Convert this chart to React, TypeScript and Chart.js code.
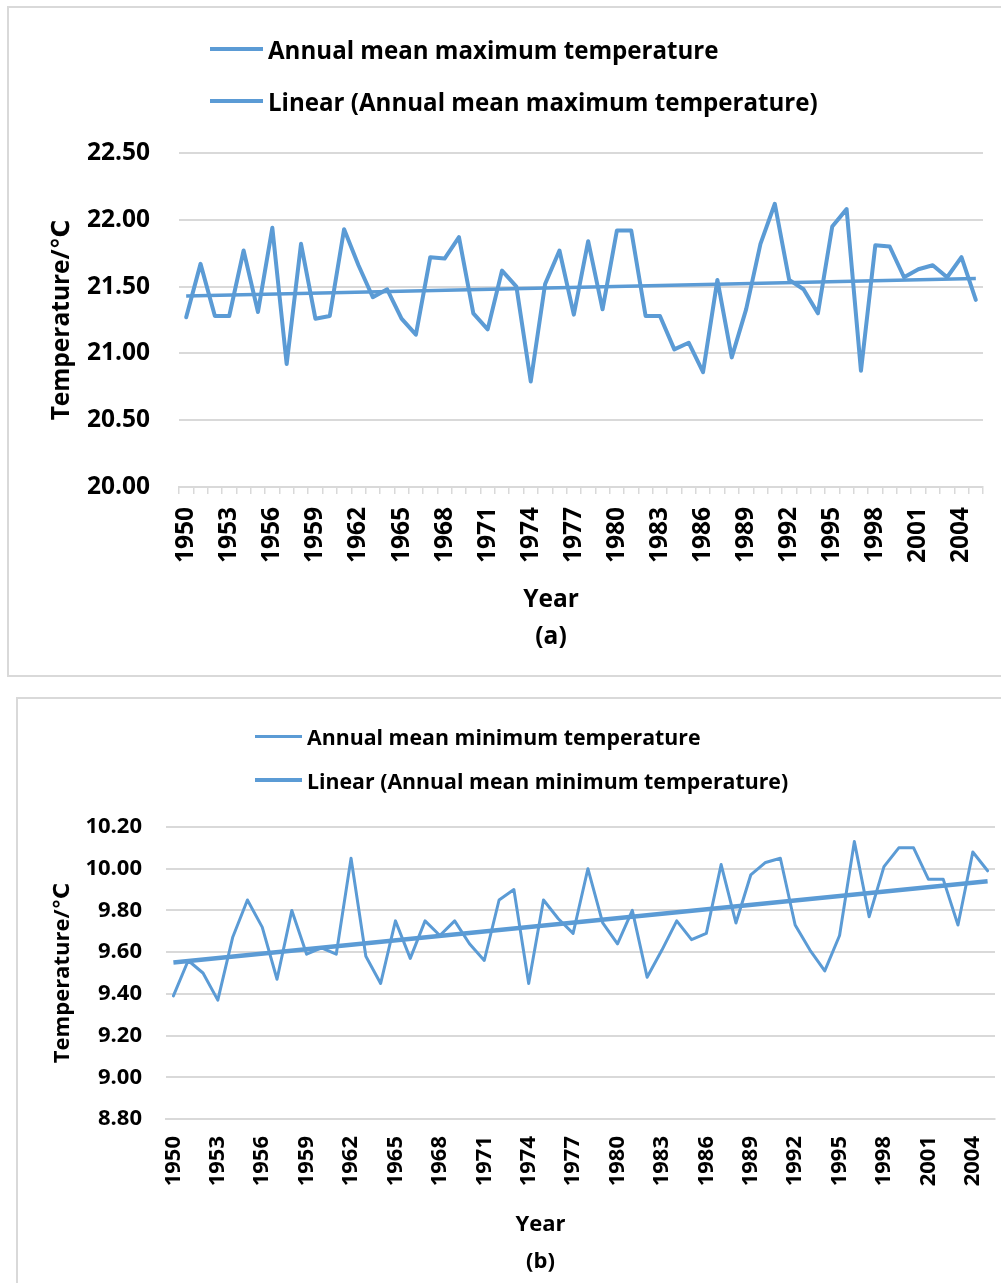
import React, { useEffect, useRef } from 'react';
import { Chart, registerables } from 'chart.js';

Chart.register(...registerables);

// ---------- data ----------
const years = [
  '1950', '1951', '1952', '1953', '1954', '1955', '1956', '1957', '1958', '1959',
  '1960', '1961', '1962', '1963', '1964', '1965', '1966', '1967', '1968', '1969',
  '1970', '1971', '1972', '1973', '1974', '1975', '1976', '1977', '1978', '1979',
  '1980', '1981', '1982', '1983', '1984', '1985', '1986', '1987', '1988', '1989',
  '1990', '1991', '1992', '1993', '1994', '1995', '1996', '1997', '1998', '1999',
  '2000', '2001', '2002', '2003', '2004', '2005',
];

const maxTemp = [
  21.27, 21.67, 21.28, 21.28, 21.77, 21.31, 21.94, 20.92, 21.82, 21.26,
  21.28, 21.93, 21.66, 21.42, 21.48, 21.26, 21.14, 21.72, 21.71, 21.87,
  21.30, 21.18, 21.62, 21.50, 20.79, 21.52, 21.77, 21.29, 21.84, 21.33,
  21.92, 21.92, 21.28, 21.28, 21.03, 21.08, 20.86, 21.55, 20.97, 21.33,
  21.82, 22.12, 21.55, 21.48, 21.30, 21.95, 22.08, 20.87, 21.81, 21.80,
  21.57, 21.63, 21.66, 21.57, 21.72, 21.40,
];
const maxTrendStart = 21.43;
const maxTrendEnd = 21.56;

const minTemp = [
  9.39, 9.56, 9.50, 9.37, 9.67, 9.85, 9.72, 9.47, 9.80, 9.59,
  9.62, 9.59, 10.05, 9.58, 9.45, 9.75, 9.57, 9.75, 9.68, 9.75,
  9.64, 9.56, 9.85, 9.90, 9.45, 9.85, 9.76, 9.69, 10.00, 9.74,
  9.64, 9.80, 9.48, 9.61, 9.75, 9.66, 9.69, 10.02, 9.74, 9.97,
  10.03, 10.05, 9.73, 9.61, 9.51, 9.68, 10.13, 9.77, 10.01, 10.10,
  10.10, 9.95, 9.95, 9.73, 10.08, 9.99,
];
const minTrendStart = 9.55;
const minTrendEnd = 9.94;

const maxLabel = 'Annual mean maximum temperature';
const maxTrendLabel = 'Linear (Annual mean maximum temperature)';
const minLabel = 'Annual mean minimum temperature';
const minTrendLabel = 'Linear (Annual mean minimum temperature)';
const yTitle = 'Temperature/℃';
const xTitle = 'Year';

// ---------- styles ----------
const FONT = '"Open Sans", "DejaVu Sans", sans-serif';
const BLUE = '#5B9BD5';
const GRID = '#d9d9d9';

const trendSeries = (start: number, end: number) =>
  years.map((_, i) => (i === 0 ? start : i === years.length - 1 ? end : null));

const captionPlugin = {
  id: 'caption',
  afterDraw(chart: any, _args: any, opts: any) {
    const { ctx, chartArea } = chart;
    ctx.save();
    ctx.fillStyle = '#000';
    ctx.textAlign = 'center';
    ctx.textBaseline = 'middle';
    ctx.font = `bold ${opts.size}px ${FONT}`;
    const cx = (chartArea.left + chartArea.right) / 2 + opts.dx;
    opts.lines.forEach((t: string, i: number) => {
      ctx.fillText(t, cx, chartArea.bottom + opts.dy[i]);
    });
    ctx.restore();
  },
};

type PanelProps = {
  top: number;
  height: number;
  values: number[];
  trend: (number | null)[];
  lineWidth: number;
  trendWidth: number;
  yMin: number;
  yMax: number;
  step: number;
  fontSize: number;
  padTop: number;
  padRight: number;
  yWidth: number;
  xHeight: number;
  yLabelPad: number;
  yTitlePad: number;
  xTickLen: number;
  xLabelPad: number;
  caption: string[];
  captionDx: number;
  captionDy: number[];
};

function Panel(p: PanelProps) {
  const ref = useRef<HTMLCanvasElement | null>(null);
  useEffect(() => {
    if (!ref.current) return;
    const font = { family: FONT, size: p.fontSize, weight: 'bold' as const };
    const chart = new Chart(ref.current, {
      type: 'line',
      data: {
        labels: years,
        datasets: [
          {
            data: p.values,
            borderColor: BLUE,
            borderWidth: p.lineWidth,
            pointRadius: 0,
            tension: 0,
            fill: false,
            borderJoinStyle: 'round',
            borderCapStyle: 'round',
          },
          {
            data: p.trend,
            borderColor: BLUE,
            borderWidth: p.trendWidth,
            pointRadius: 0,
            spanGaps: true,
            fill: false,
            borderCapStyle: 'butt',
          },
        ],
      },
      options: {
        responsive: false,
        animation: false,
        devicePixelRatio: 1,
        layout: { padding: { top: p.padTop, right: p.padRight, bottom: 0, left: 0 } },
        plugins: {
          legend: { display: false },
          tooltip: { enabled: false },
          caption: { lines: p.caption, dx: p.captionDx, dy: p.captionDy, size: p.fontSize },
        } as any,
        scales: {
          x: {
            type: 'category',
            offset: true,
            grid: {
              display: true,
              offset: true,
              drawOnChartArea: false,
              drawTicks: p.xTickLen > 0,
              tickLength: p.xTickLen,
              color: GRID,
              lineWidth: 1.5,
            },
            border: { display: true, color: GRID, width: 2 },
            ticks: {
              autoSkip: false,
              minRotation: 90,
              maxRotation: 90,
              padding: p.xLabelPad,
              color: '#000',
              font,
              callback: (_v: any, i: number) => (i % 3 === 0 ? years[i] : ''),
            },
            afterFit: (s: any) => {
              s.height = p.xHeight;
              s.paddingLeft = 0;
              s.paddingRight = 0;
            },
          },
          y: {
            min: p.yMin,
            max: p.yMax,
            grid: { color: GRID, lineWidth: 2, drawTicks: false },
            border: { display: false },
            ticks: {
              stepSize: p.step,
              padding: p.yLabelPad,
              color: '#000',
              font,
              callback: (v: any) => Number(v).toFixed(2),
            },
            title: {
              display: true,
              text: yTitle,
              color: '#000',
              font,
              padding: { top: p.yTitlePad, bottom: 0 },
            },
            afterFit: (s: any) => {
              s.width = p.yWidth;
            },
          },
        },
      },
      plugins: [captionPlugin],
    } as any);
    return () => chart.destroy();
  }, []);
  return (
    <canvas
      ref={ref}
      width={1001}
      height={p.height}
      style={{ position: 'absolute', left: 0, top: p.top, width: 1001, height: p.height }}
    />
  );
}

function LegendRow(props: { left: number; cy: number; sample: number; thick: number; gap: number; size: number; text: string }) {
  return (
    <div
      style={{
        position: 'absolute',
        left: props.left,
        top: props.cy - 20,
        height: 40,
        display: 'flex',
        alignItems: 'center',
        whiteSpace: 'nowrap',
        fontFamily: FONT,
        fontWeight: 'bold',
        fontSize: props.size,
        color: '#000',
        zIndex: 2,
      }}
    >
      <div style={{ width: props.sample, height: props.thick, background: BLUE, marginRight: props.gap }} />
      <span>{props.text}</span>
    </div>
  );
}

export default function App() {
  return (
    <div
      style={{
        position: 'absolute',
        left: 0,
        top: 0,
        width: 1001,
        height: 1283,
        overflow: 'hidden',
        background: '#fff',
      }}
    >
      <div
        style={{
          position: 'absolute',
          left: 7,
          top: 6,
          width: 1010,
          height: 671,
          boxSizing: 'border-box',
          border: `2px solid ${GRID}`,
        }}
      />
      <div
        style={{
          position: 'absolute',
          left: 16,
          top: 697,
          width: 1010,
          height: 700,
          boxSizing: 'border-box',
          border: `2px solid ${GRID}`,
        }}
      />
      <LegendRow left={210} cy={49} sample={53} thick={4} gap={5} size={24.1} text={maxLabel} />
      <LegendRow left={210} cy={101} sample={53} thick={4} gap={5} size={24.1} text={maxTrendLabel} />
      <LegendRow left={255} cy={736} sample={47} thick={3} gap={5} size={21.3} text={minLabel} />
      <LegendRow left={255} cy={780} sample={47} thick={4} gap={5} size={21.3} text={minTrendLabel} />
      <Panel
        top={0}
        height={680}
        values={maxTemp}
        trend={trendSeries(maxTrendStart, maxTrendEnd)}
        lineWidth={4}
        trendWidth={3.5}
        yMin={20}
        yMax={22.5}
        step={0.5}
        fontSize={24.5}
        padTop={153}
        padRight={18}
        yWidth={179}
        xHeight={193}
        yLabelPad={29}
        yTitlePad={47}
        xTickLen={7}
        xLabelPad={13}
        caption={[xTitle, '(a)']}
        captionDx={-30}
        captionDy={[113, 150]}
      />
      <Panel
        top={680}
        height={603}
        values={minTemp}
        trend={trendSeries(minTrendStart, minTrendEnd)}
        lineWidth={3}
        trendWidth={4.5}
        yMin={8.8}
        yMax={10.2}
        step={0.2}
        fontSize={22}
        padTop={147}
        padRight={6}
        yWidth={166}
        xHeight={164}
        yLabelPad={24}
        yTitlePad={50}
        xTickLen={0}
        xLabelPad={17}
        caption={[xTitle, '(b)']}
        captionDx={-40}
        captionDy={[106, 143]}
      />
    </div>
  );
}
